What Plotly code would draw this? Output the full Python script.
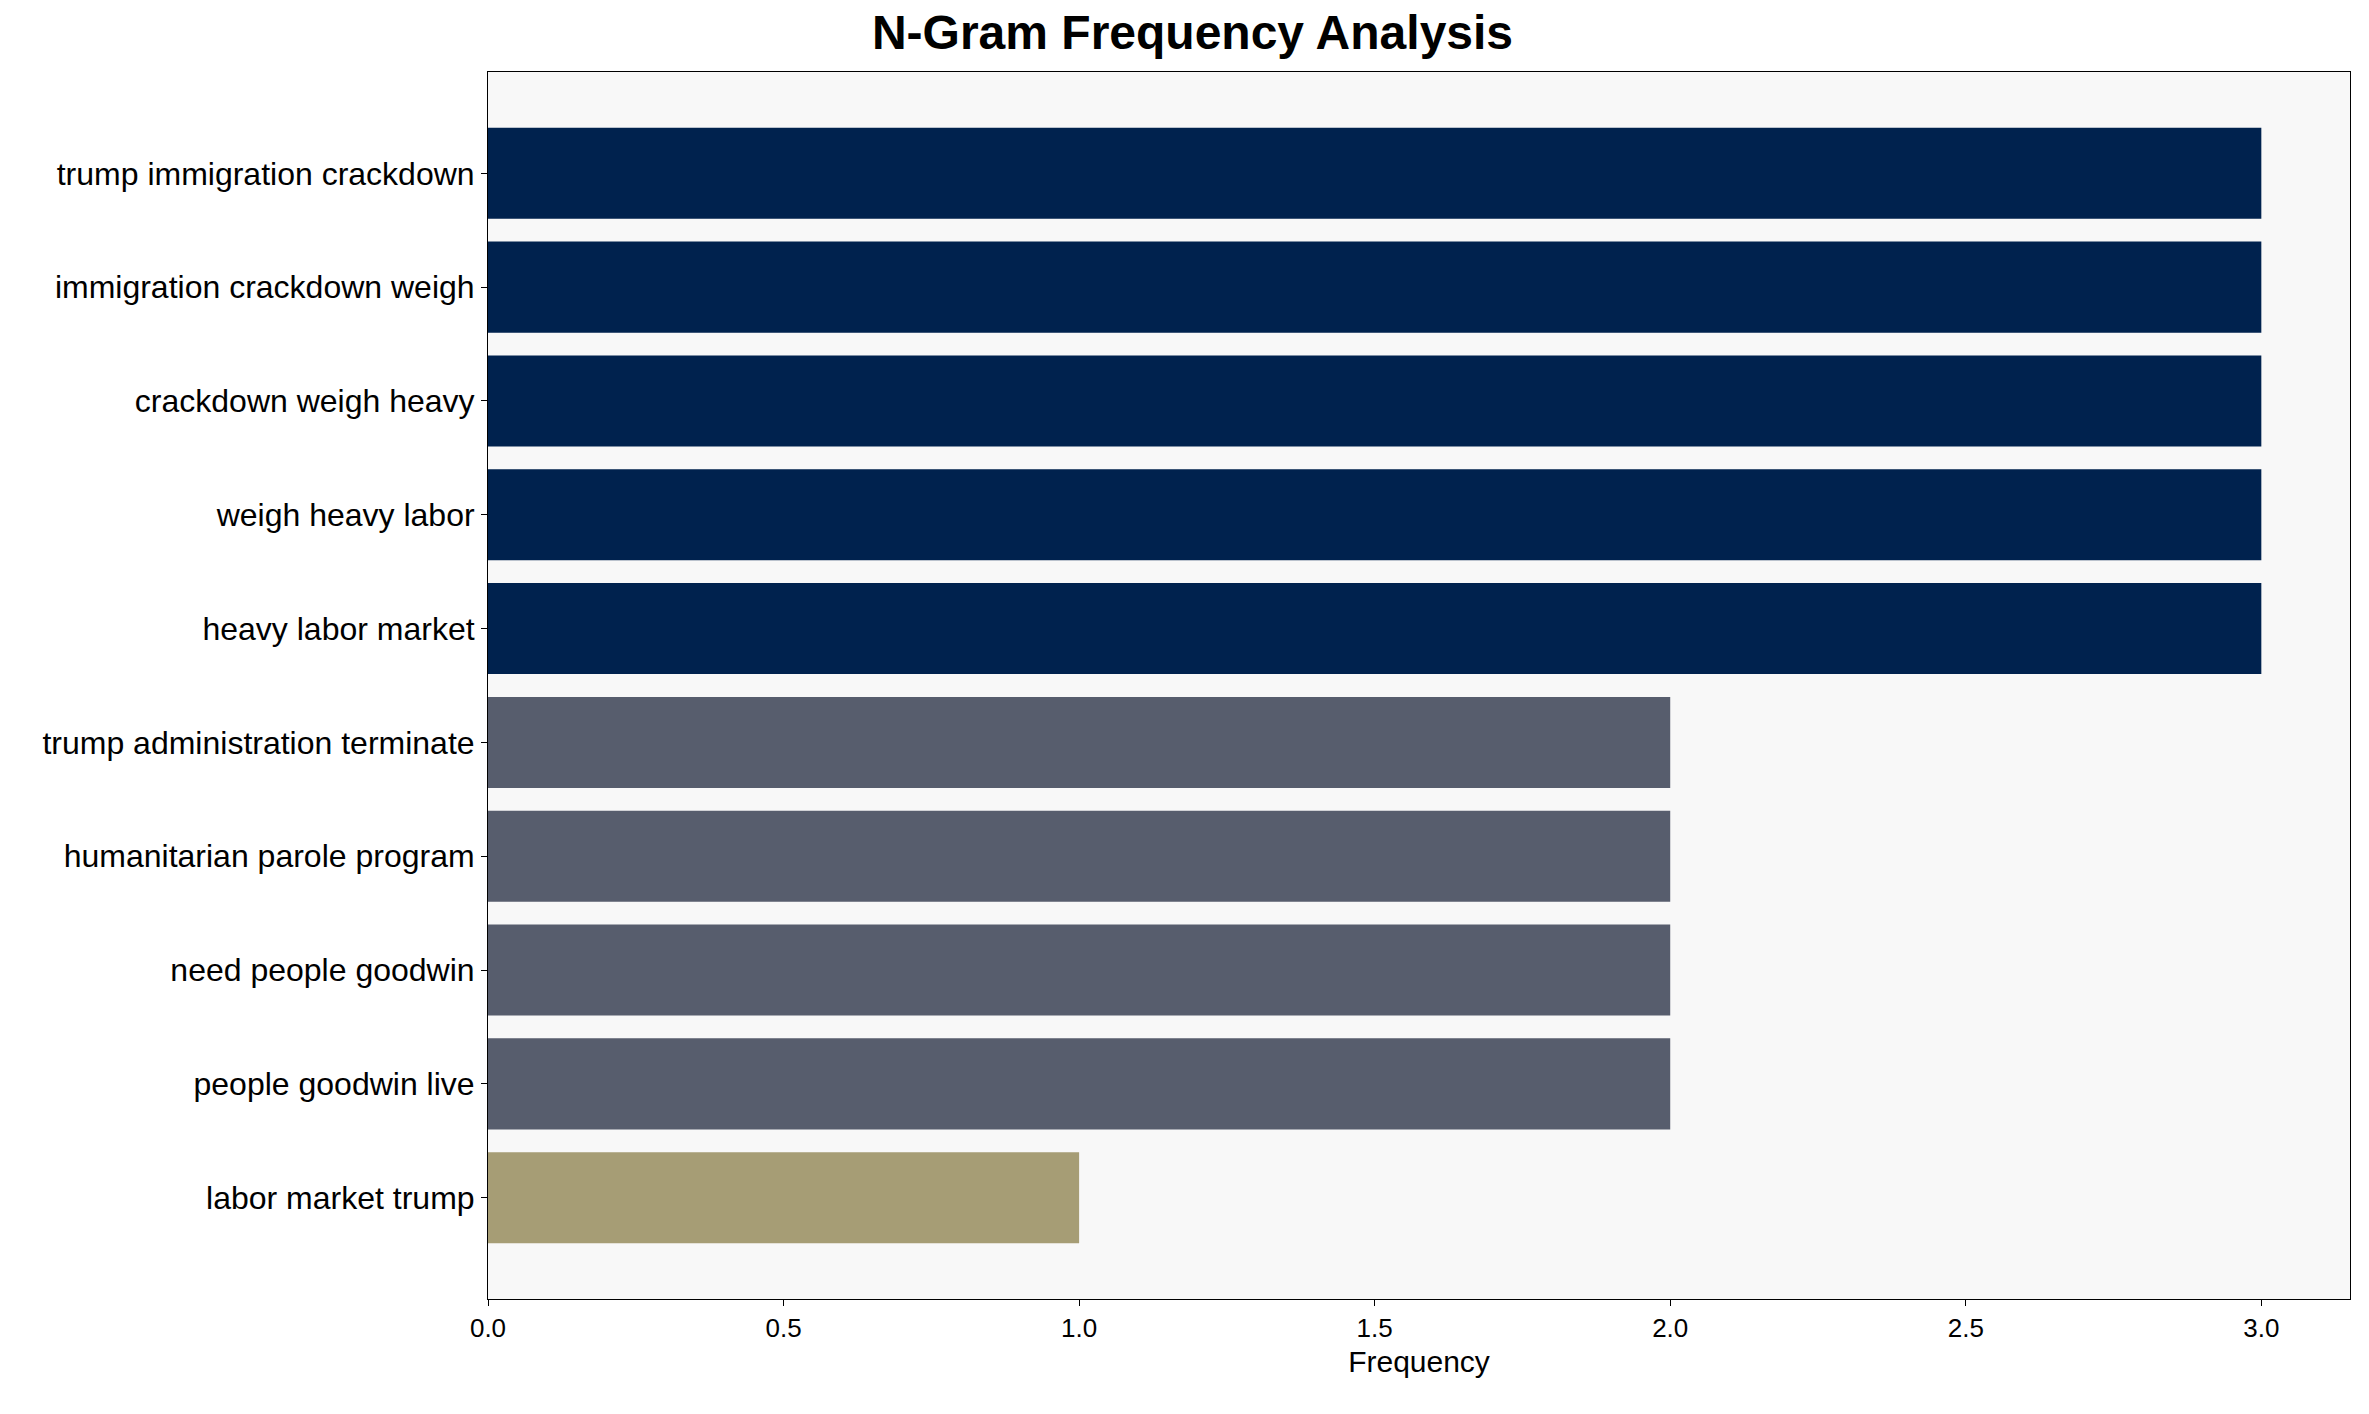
import plotly.graph_objects as go

ngrams = [
    "trump immigration crackdown",
    "immigration crackdown weigh",
    "crackdown weigh heavy",
    "weigh heavy labor",
    "heavy labor market",
    "trump administration terminate",
    "humanitarian parole program",
    "need people goodwin",
    "people goodwin live",
    "labor market trump",
]
counts = [3, 3, 3, 3, 3, 2, 2, 2, 2, 1]
color_by_count = {3: "#00224e", 2: "#575d6d", 1: "#a69d75"}
bar_colors = [color_by_count[c] for c in counts]

fig = go.Figure(go.Bar(
    x=counts, y=ngrams, orientation="h",
    marker=dict(color=bar_colors, line=dict(width=0)),
    width=0.8,
))

fig.update_layout(
    width=2369, height=1414,
    margin=dict(l=480, r=27, t=64, b=123),
    paper_bgcolor="white", plot_bgcolor="#f8f8f8",
    font=dict(family="Liberation Sans, Arial", size=32, color="black"),
    title=dict(text="<b>N-Gram Frequency Analysis</b>", x=0.5, xanchor="center",
               y=0.995, yanchor="top", font=dict(size=48)),
    showlegend=False,
)
fig.update_xaxes(
    range=[0, 3.15], dtick=0.5, tickformat=".1f",
    tickfont=dict(size=26),
    title=dict(text="Frequency", font=dict(size=30), standoff=8),
    showgrid=False, zeroline=False,
    showline=True, linecolor="black", linewidth=1, mirror=True,
    ticks="outside", ticklen=6, tickcolor="black",
)
fig.update_yaxes(
    range=[9.89, -0.89], showgrid=False, zeroline=False,
    tickfont=dict(size=32),
    showline=True, linecolor="black", linewidth=1, mirror=True,
    ticks="outside", ticklen=6, tickcolor="black",
)

fig.write_html("out.html")
